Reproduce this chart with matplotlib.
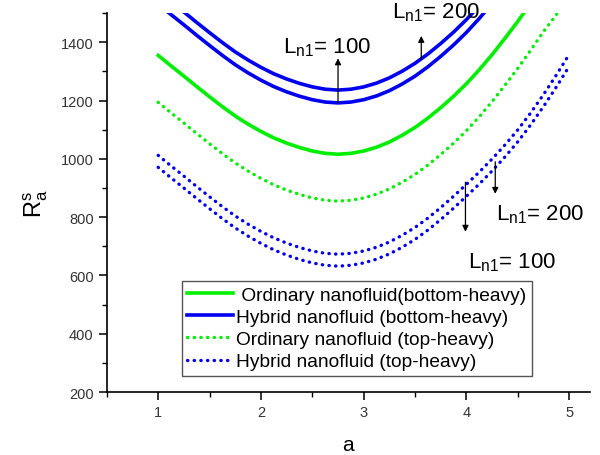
import matplotlib
matplotlib.use("Agg")
import matplotlib.pyplot as plt
from matplotlib.ticker import MultipleLocator

plt.rcParams["font.family"] = ["Liberation Sans", "DejaVu Sans"]
plt.rcParams["mathtext.fontset"] = "custom"
plt.rcParams["mathtext.rm"] = "Liberation Sans"
plt.rcParams["mathtext.it"] = "Liberation Sans"

# wave number a, every 0.125
a = [1.0, 1.125, 1.25, 1.375, 1.5, 1.625, 1.75, 1.875, 2.0, 2.125, 2.25, 2.375, 2.5,
     2.625, 2.75, 2.875, 3.0, 3.125, 3.25, 3.375, 3.5, 3.625, 3.75, 3.875, 4.0,
     4.125, 4.25, 4.375, 4.5, 4.625, 4.75, 4.875, 5.0]

ord_bottom = [1355, 1319, 1284, 1248, 1213, 1179, 1147, 1119, 1094, 1072, 1054, 1039, 1027,
              1019, 1016, 1019, 1027, 1040, 1058, 1081, 1108, 1140, 1176, 1215, 1258,
              1306, 1358, 1414, 1472, 1534, 1598, 1666, 1736]
hyb_bottom_200 = [1575, 1539, 1504, 1468, 1433, 1399, 1367, 1339, 1314, 1292, 1274, 1259, 1247,
                  1239, 1236, 1239, 1247, 1260, 1278, 1301, 1328, 1360, 1396, 1435, 1478,
                  1526, 1578, 1634, 1692, 1754, 1818, 1886, 1956]
hyb_bottom_100 = [1531, 1495, 1460, 1424, 1389, 1355, 1323, 1295, 1270, 1248, 1230, 1215, 1203,
                  1195, 1192, 1195, 1203, 1216, 1234, 1257, 1284, 1316, 1352, 1391, 1434,
                  1482, 1534, 1590, 1648, 1710, 1774, 1842, 1912]
ord_top = [1194, 1158, 1123, 1087, 1052, 1018, 986, 958, 933, 911, 893, 878, 866,
           858, 855, 858, 866, 879, 897, 920, 947, 979, 1015, 1054, 1097,
           1145, 1197, 1253, 1311, 1373, 1437, 1495, 1560]
hyb_top_200 = [1012, 976, 941, 905, 870, 836, 804, 776, 751, 729, 711, 696, 684,
               676, 673, 676, 684, 697, 715, 738, 765, 797, 833, 872, 913,
               955, 1000, 1048, 1100, 1158, 1221, 1288, 1359]
hyb_top_100 = [971, 935, 900, 864, 829, 795, 763, 735, 710, 688, 670, 655, 643,
               635, 632, 635, 643, 656, 674, 697, 724, 756, 792, 831, 872,
               914, 959, 1007, 1059, 1117, 1180, 1247, 1318]

GREEN = "#00ee00"
BLUE = "#0000ee"
dots = (0, (0.1, 1.9))

fig = plt.figure(figsize=(6, 4.56), dpi=100)
ax = fig.add_axes([0.178, 0.138, 0.805, 0.831])

ax.plot(a, ord_bottom, color=GREEN, lw=2.6, label=" Ordinary nanofluid(bottom-heavy)")
ax.plot(a, hyb_bottom_200, color=BLUE, lw=2.6, label="Hybrid nanofluid (bottom-heavy)")
ax.plot(a, hyb_bottom_100, color=BLUE, lw=2.6)
ax.plot(a, ord_top, color=GREEN, lw=2.4, ls=dots, dash_capstyle="round",
        label="Ordinary nanofluid (top-heavy)")
ax.plot(a, hyb_top_200, color=BLUE, lw=2.4, ls=dots, dash_capstyle="round",
        label="Hybrid nanofluid (top-heavy)")
ax.plot(a, hyb_top_100, color=BLUE, lw=2.4, ls=dots, dash_capstyle="round")

arrow = dict(arrowstyle="-|>", color="black", lw=0.9, mutation_scale=9, shrinkA=0, shrinkB=0)
ax.annotate("", xy=(2.75, 1345), xytext=(2.75, 1192), arrowprops=arrow)
ax.annotate("", xy=(3.56, 1422), xytext=(3.56, 1342), arrowprops=arrow)
ax.annotate("", xy=(4.28, 880), xytext=(4.28, 990), arrowprops=arrow)
ax.annotate("", xy=(3.99, 750), xytext=(3.99, 920), arrowprops=arrow)

lab = r"$\mathregular{L_{n1}}$= "
ax.text(2.21, 1366, lab + "100", fontsize=16, va="baseline")
ax.text(3.28, 1484, lab + "200", fontsize=16, va="baseline", clip_on=False)
ax.text(4.29, 793, lab + "200", fontsize=16, va="baseline")
ax.text(4.01, 629, lab + "100", fontsize=16, va="baseline")

ax.set_xlim(0.5, 5.2)
ax.set_ylim(200, 1500)
ax.xaxis.set_major_locator(MultipleLocator(1))
ax.xaxis.set_minor_locator(MultipleLocator(0.5))
ax.yaxis.set_major_locator(MultipleLocator(200))
ax.yaxis.set_minor_locator(MultipleLocator(100))
ax.spines["top"].set_visible(False)
ax.spines["right"].set_visible(False)
for s in ("left", "bottom"):
    ax.spines[s].set_linewidth(1.2)
ax.tick_params(which="major", direction="out", length=6, width=1.1, labelsize=10.5,
               labelcolor="#333333")
ax.tick_params(which="minor", direction="out", length=3.5, width=1.0)

ax.set_xlabel("a", fontsize=15, labelpad=11)
ax.set_ylabel(r"$\mathregular{R_a^s}$", fontsize=17, labelpad=8)

leg = ax.legend(loc="lower left", bbox_to_anchor=(0.155, 0.042), fontsize=13.8,
                frameon=True, fancybox=False, edgecolor="#555555", framealpha=1,
                handlelength=2.4, handletextpad=0.15, labelspacing=0.25,
                borderpad=0.3, borderaxespad=0)
leg.get_frame().set_linewidth(1.0)

fig.savefig("out.png", dpi=100)
